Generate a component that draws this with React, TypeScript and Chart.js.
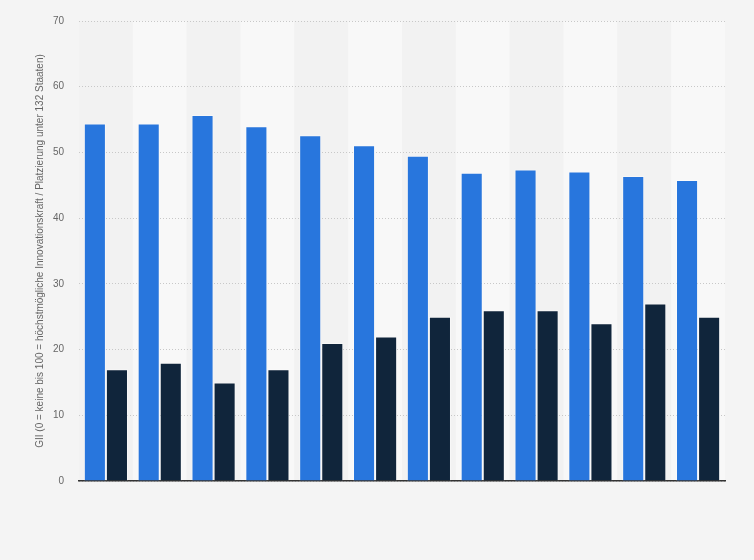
import { useEffect, useRef } from "react";
import Chart, { ChartConfiguration, Plugin } from "chart.js/auto";

const categories = ["1", "2", "3", "4", "5", "6", "7", "8", "9", "10", "11", "12"];
const scoreValues = [54.4, 54.4, 55.7, 54.0, 52.6, 51.1, 49.5, 46.9, 47.4, 47.1, 46.4, 45.8];
const rankValues = [17, 18, 15, 17, 21, 22, 25, 26, 26, 24, 27, 25];
const yTicks = [0, 10, 20, 30, 40, 50, 60, 70];

const FONT = "Arial, 'Liberation Sans', Helvetica, sans-serif";

// page background plus lighter bands behind every second category
const bandsPlugin: Plugin<"bar"> = {
  id: "bands",
  beforeDraw(chart) {
    const { ctx, chartArea, scales } = chart;
    ctx.save();
    ctx.fillStyle = "#f4f4f4";
    ctx.fillRect(0, 0, chart.width, chart.height);
    const x = scales.x;
    const step = (chartArea.right - chartArea.left) / categories.length;
    categories.forEach((_, i) => {
      ctx.fillStyle = i % 2 === 1 ? "#f8f8f8" : "#f2f2f2";
      const cx = x.getPixelForValue(i);
      ctx.fillRect(cx - step / 2, chartArea.top, step, chartArea.bottom - chartArea.top);
    });
    ctx.restore();
  },
};

export default function App() {
  const canvasRef = useRef<HTMLCanvasElement>(null);
  const chartRef = useRef<Chart<"bar", number[], string> | null>(null);

  useEffect(() => {
    if (!canvasRef.current) return;

    const config: ChartConfiguration<"bar", number[], string> = {
      type: "bar",
      data: {
        labels: categories,
        datasets: [
          {
            label: "GII",
            data: scoreValues,
            backgroundColor: "#2876dd",
            borderColor: "rgba(255,255,255,0.4)",
            borderWidth: 1,
            categoryPercentage: 0.82,
            barPercentage: 1,
          },
          {
            label: "Platzierung",
            data: rankValues,
            backgroundColor: "#10253b",
            borderColor: "rgba(255,255,255,0.4)",
            borderWidth: 1,
            categoryPercentage: 0.82,
            barPercentage: 1,
          },
        ],
      },
      options: {
        animation: false,
        responsive: false,
        maintainAspectRatio: false,
        layout: { padding: { left: 0, right: 29, top: 20, bottom: 79 } },
        scales: {
          x: {
            grid: { display: false, drawTicks: false },
            ticks: { display: false },
            border: { display: true, color: "#333333", width: 1.5 },
          },
          y: {
            min: 0,
            max: 70,
            afterBuildTicks: (scale) => {
              scale.ticks = yTicks.map((v) => ({ value: v }));
            },
            afterFit: (scale) => {
              scale.width = 79;
            },
            grid: { color: "#c8c8c8", lineWidth: 1, drawTicks: false },
            border: { display: false, dash: [1, 2] },
            ticks: {
              padding: 15,
              color: "#666666",
              font: { family: FONT, size: 10 },
            },
            title: {
              display: true,
              text: "GII (0 = keine bis 100 = höchstmögliche Innovationskraft / Platzierung unter 132 Staaten)",
              color: "#666666",
              font: { family: FONT, size: 10 },
              padding: { top: 34, bottom: 0 },
            },
          },
        },
        plugins: {
          legend: { display: false },
          tooltip: { enabled: false },
        },
      },
      plugins: [bandsPlugin],
    };

    chartRef.current = new Chart(canvasRef.current, config);

    return () => {
      if (chartRef.current) {
        chartRef.current.destroy();
        chartRef.current = null;
      }
    };
  }, []);

  return (
    <div
      style={{
        position: "fixed",
        left: 0,
        top: 0,
        width: "754px",
        height: "560px",
        background: "#f4f4f4",
      }}
    >
      <canvas ref={canvasRef} width={754} height={560} style={{ width: "754px", height: "560px" }} />
    </div>
  );
}
